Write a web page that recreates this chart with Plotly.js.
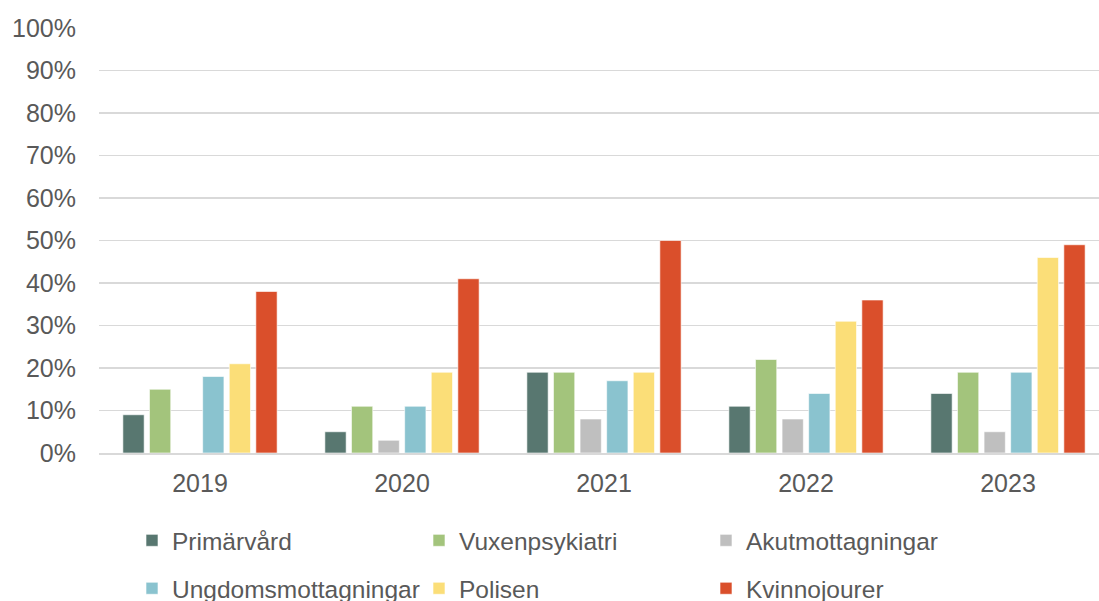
<!DOCTYPE html>
<html>
<head>
<meta charset="utf-8">
<script src="https://cdn.plot.ly/plotly-3.0.1.min.js"></script>
<style>
  html, body { margin: 0; padding: 0; overflow: hidden; background: #fff; }
  #chart { width: 1112px; height: 640px; }
</style>
</head>
<body>
<div id="chart"></div>
<script>
const years = ['2019', '2020', '2021', '2022', '2023'];
const seriesNames = ['Primärvård', 'Vuxenpsykiatri', 'Akutmottagningar', 'Ungdomsmottagningar', 'Polisen', 'Kvinnojourer'];
const primarvard = [9, 5, 19, 11, 14];
const vuxenpsykiatri = [15, 11, 19, 22, 19];
const akutmottagningar = [0, 3, 8, 8, 5];
const ungdomsmottagningar = [18, 11, 17, 14, 19];
const polisen = [21, 19, 19, 31, 46];
const kvinnojourer = [38, 41, 50, 36, 49];
const yTicks = [0, 10, 20, 30, 40, 50, 60, 70, 80, 90, 100];

const seriesValues = [primarvard, vuxenpsykiatri, akutmottagningar, ungdomsmottagningar, polisen, kvinnojourer];
const colors = ['#587770', '#a3c47c', '#bfbfbf', '#8ac3cf', '#fbde78', '#da4f2b'];
const legendIds = ['legend', 'legend', 'legend', 'legend2', 'legend2', 'legend2'];

const traces = seriesNames.map((name, i) => ({
  type: 'bar',
  name: name,
  x: years,
  y: seriesValues[i],
  legend: legendIds[i],
  marker: { color: colors[i], line: { color: 'rgba(255,255,255,0.6)', width: 1 } },
  hoverinfo: 'x+y+name'
}));

const textFont = { family: '"Liberation Sans", Arial, sans-serif', size: 25, color: '#595959' };
const legendFont = { family: '"Liberation Sans", Arial, sans-serif', size: 24.5, color: '#595959' };

const W = 1112, H = 640;
const mL = 99, mT = 28, plotBottom = 453.5;
const mB = H - plotBottom;
const plotH = plotBottom - mT;
const mR = W - 1109;
const plotW = 1109 - mL;

function py(px) { return -(px - plotBottom) / plotH; }
function pxX(px) { return (px - mL) / plotW; }

const legendCommon = {
  orientation: 'h',
  xanchor: 'left',
  yanchor: 'middle',
  x: pxX(132),
  font: legendFont,
  bgcolor: 'rgba(0,0,0,0)',
  entrywidth: 242,
  entrywidthmode: 'pixels',
  traceorder: 'normal',
  itemclick: false,
  itemdoubleclick: false
};

const layout = {
  width: W,
  height: H,
  margin: { l: mL, r: mR, t: mT, b: mB, pad: 0 },
  paper_bgcolor: '#ffffff',
  plot_bgcolor: '#ffffff',
  font: textFont,
  barmode: 'group',
  bargap: 0.21,
  bargroupgap: 0.2,
  showlegend: true,
  legend: Object.assign({}, legendCommon, { y: py(541) }),
  legend2: Object.assign({}, legendCommon, { y: py(589) }),
  xaxis: {
    type: 'category',
    range: [-0.5, 4.5],
    showgrid: false,
    showline: true,
    linecolor: '#d9d9d9',
    linewidth: 1.8,
    ticks: '',
    tickfont: textFont,
    ticklabelstandoff: 7,
    fixedrange: true
  },
  yaxis: {
    range: [0, 100],
    tickvals: yTicks,
    ticktext: yTicks.map(v => v + '%'),
    showgrid: true,
    gridcolor: '#d9d9d9',
    gridwidth: 1.8,
    zeroline: false,
    showline: false,
    ticks: '',
    tickfont: textFont,
    ticklabelstandoff: 22,
    fixedrange: true
  }
};

Plotly.newPlot('chart', traces, layout, { displayModeBar: false, staticPlot: true });
</script>
</body>
</html>
